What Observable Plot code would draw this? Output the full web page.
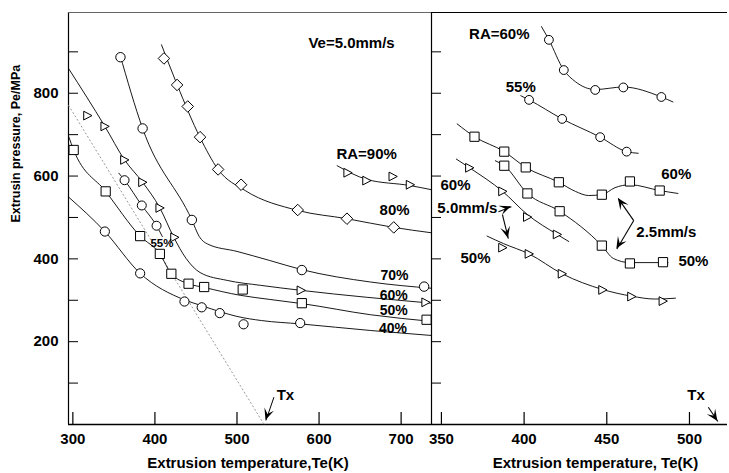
<!DOCTYPE html>
<html><head><meta charset="utf-8">
<script src="https://cdn.jsdelivr.net/npm/d3@7"></script>
<script src="https://cdn.jsdelivr.net/npm/@observablehq/plot@0.6"></script>
<style>
html,body{margin:0;padding:0;background:#fff;}
#wrap{position:relative;width:729px;height:473px;overflow:hidden;background:#fff;}
#wrap svg{position:absolute;top:0;overflow:visible;}
</style></head><body><div id="wrap"></div>
<script>
// ---------- axes ----------
const yDomain = [0, 995];
const xDomainL = [294.7, 737];
const xDomainR = [344, 523];
const xTicksL = [300, 400, 500, 600, 700];
const xTicksR = [350, 400, 450, 500];
const yTickLabels = [200, 400, 600, 800];
const yTickMarks = [100, 200, 300, 400, 500, 600, 700, 800, 900];

// ---------- left panel (Ve = 5.0 mm/s) ----------
const L90 = [[635,608],[658,589],[690,599],[711,579]];
const L90fit = [[622,625],[658,592],[711,577],[737,567]];
const L80 = [[411,884],[427,820],[440,768],[455,694],[477,616],[505,579],[574,518],[634,497],[691,476]];
const L80fit = [[408,917],[427,821],[455,693],[477,616],[510,565],[574,517],[634,497],[691,476],[737,463]];
const L70 = [[358,887],[385,715],[445,494],[579,373],[728,333]];
const L70fit = [[357,896],[385,715],[445,494],[454,454],[464,436],[500,418],[540,396],[579,374],[663,344],[737,329]];
const L60 = [[318,746],[339,720],[363,639],[385,585],[406,523],[424,452],[578,324],[730,295]];
const L60fit = [[295,859],[339,720],[363,639],[385,585],[406,523],[423,452],[438,401],[455,367],[488,348],[529,336],[578,324],[737,293]];
const L55 = [[363,590],[384,529],[402,480]];
const L55fit = [[356,607],[363,590],[384,529],[402,480],[409,454]];
const L50 = [[301,663],[340,563],[382,455],[406,412],[420,364],[441,340],[460,332],[507,326],[579,293],[731,253]];
const L50fit = [[295,695],[301,663],[340,563],[382,455],[406,412],[420,364],[441,340],[460,331],[504,312],[540,302],[579,292],[663,265],[737,249]];
const L40 = [[339,466],[382,365],[436,297],[457,283],[479,269],[508,242],[577,245]];
const L40fit = [[295,549],[339,466],[382,365],[436,301],[457,287],[480,272],[500,261],[530,251],[577,243],[663,227],[737,215]];
const Ldotted = [[295,770],[533,0]];

// ---------- right panel ----------
const R60c = [[415,929],[424,856],[443,808],[460,814],[483,791]];
const R60cFit = [[410.5,961],[415,929],[424,856],[431,828],[443,809],[460,815],[483,791],[490,779]];
const R55c = [[403,784],[423,738],[446,694],[462,659]];
const R55cFit = [[398,794],[403,784],[423,738],[446,694],[462,659],[469,655]];
const R60s = [[370,695],[388,659],[401,621],[421,585],[447,555],[464,587],[482,565]];
const R60sFit = [[359.5,726],[370,695],[388,659],[401,621],[421,585],[431,563],[439,553],[447,555],[455,572],[464,579],[482,565],[493,558]];
const R50s = [[388,625],[402,558],[421.5,515],[447,432],[464,389],[484,392]];
const R50sFit = [[382.6,637],[388,625],[402,558],[421.5,515],[447,432],[454,401],[464,391],[487,391]];
const R60t = [[367,620],[387,563],[402,501],[420,459]];
const R60tFit = [[359,641],[367,620],[387,563],[402,507],[420,459],[427,442]];
const R50t = [[387,427],[403,412],[423,364],[447.5,325],[465,309],[484,298]];
const R50tFit = [[377.6,455],[387.5,437],[403,412],[423,364],[447.5,326],[465,310],[479,303],[491.5,305]];

// ---------- annotations ----------
const labelsL = [
  {x:658, y:654, text:"RA=90%"},
  {x:692, y:517, text:"80%"},
  {x:559, y:70, text:"Tx"}
];
const labelsStack = [
  {x:692, y:361, text:"70%"},
  {x:691, y:311, text:"60%"},
  {x:691, y:275, text:"50%"},
  {x:690, y:232, text:"40%"}
];
const labelVe = [{x:587, y:922, text:"Ve=5.0mm/s"}];
const label55 = [{x:408.6, y:438, text:"55%"}];
const labelsR = [
  {x:385, y:942, text:"RA=60%"},
  {x:398, y:814, text:"55%"},
  {x:492, y:604, text:"60%"},
  {x:358.5, y:579, text:"60%"},
  {x:365.7, y:523, text:"5.0mm/s"},
  {x:370.6, y:402, text:"50%"},
  {x:486, y:464, text:"2.5mm/s"},
  {x:502.4, y:394, text:"50%"},
  {x:504, y:70, text:"Tx"}
];
const arrowsL = [{x1:545, y1:66, x2:535.3, y2:9.7}];
const arrowsR = [
  {x1:511.4, y1:41.8, x2:517.2, y2:7.2},
  {x1:466.3, y1:492.5, x2:457, y2:545.6},
  {x1:466.3, y1:492.5, x2:456.1, y2:423.7},
  {x1:384.5, y1:514, x2:392.3, y2:526},
  {x1:386.9, y1:507, x2:390.5, y2:449}
];

// ---------- helpers ----------
const FONT = "'Liberation Sans', Arial, Helvetica, sans-serif";
const triRight = {
  draw(ctx, size) {
    const r = Math.sqrt(size / Math.PI);
    ctx.moveTo(r * 0.95, 0);
    ctx.lineTo(-r * 0.85, -r * 0.95);
    ctx.lineTo(-r * 0.85, r * 0.95);
    ctx.closePath();
  }
};
const px = d => d[0], py = d => d[1];
const curve = data => Plot.line(data, {x: px, y: py, curve: "monotone-x", stroke: "black", strokeWidth: 0.9});
const dots = (data, symbol, r) => Plot.dot(data, {x: px, y: py, symbol, r, fill: "white", stroke: "black", strokeWidth: 1});

function frameMarks(xDom, ticksX, plotW, withTop) {
  const yPerPx = (yDomain[1] - yDomain[0]) / 412;
  const xPerPx = (xDom[1] - xDom[0]) / plotW;
  return [
    Plot.ruleX([xDom[0]], {stroke: "black", strokeWidth: 1.2}),
    Plot.ruleY([0], {stroke: "black", strokeWidth: 1.4}),
    Plot.ruleY([yDomain[1]], {stroke: withTop, strokeWidth: 1}),
    Plot.ruleX(ticksX, {y1: 0, y2: 12 * yPerPx, stroke: "black", strokeWidth: 1.2}),
    Plot.ruleY(yTickMarks, {x1: xDom[0], x2: xDom[0] + 10 * xPerPx, stroke: "black", strokeWidth: 1})
  ];
}

function heads(svg, arr) {
  const sx = svg.scale("x"), sy = svg.scale("y");
  const g = d3.select(svg).append("g");
  for (const a of arr) {
    const x1 = sx.apply(a.x1), y1 = sy.apply(a.y1), x2 = sx.apply(a.x2), y2 = sy.apply(a.y2);
    const ang = Math.atan2(y2 - y1, x2 - x1);
    const L = 11.5, W = 5;
    const pts = [[0,0],[-L,-W],[-L*0.55,0],[-L,W]].map(([u,v]) =>
      [x2 + u*Math.cos(ang) - v*Math.sin(ang), y2 + u*Math.sin(ang) + v*Math.cos(ang)]);
    g.append("path").attr("d", "M" + pts.map(p => p.join(",")).join("L") + "Z").attr("fill", "black");
  }
}

const style = {fontFamily: FONT, fontSize: "15px", fontWeight: "bold", background: "transparent", overflow: "visible", color: "black"};

// ---------- left plot ----------
const left = Plot.plot({
  width: 432, height: 473,
  marginLeft: 68, marginRight: 1, marginTop: 12, marginBottom: 49,
  style,
  x: {domain: xDomainL, ticks: xTicksL, tickSize: 0, tickPadding: 9, label: null},
  y: {domain: yDomain, ticks: yTickLabels, tickSize: 0, tickPadding: 10, label: null},
  marks: [
    ...frameMarks(xDomainL, xTicksL, 363, "#666"),
    Plot.line(Ldotted, {x: px, y: py, stroke: "#999", strokeWidth: 1, strokeDasharray: "1.2,2.8"}),
    curve(L90fit), curve(L80fit), curve(L70fit), curve(L60fit), curve(L55fit), curve(L50fit), curve(L40fit),
    dots(L90, triRight, 4.6), dots(L80, "diamond2", 5.2), dots(L70, "circle", 4.7),
    dots(L60, triRight, 4.6), dots(L55, "circle", 4.5), dots(L50, "square", 5.2), dots(L40, "circle", 4.6),
    Plot.text(labelsL, {x: "x", y: "y", text: "text"}),
    Plot.text(labelsStack, {x: "x", y: "y", text: "text", fontSize: 14}),
    Plot.text(labelVe, {x: "x", y: "y", text: "text", textAnchor: "start"}),
    Plot.text(label55, {x: "x", y: "y", text: "text", fontSize: 11.5, fill: "black"}),
    Plot.link(arrowsL, {x1: "x1", y1: "y1", x2: "x2", y2: "y2", stroke: "black", strokeWidth: 1}),
    Plot.text(["Extrusin pressure, Pe/MPa"], {text: d => d, frameAnchor: "left", dx: -53, dy: 4, rotate: -90, fontSize: 12.5}),
    Plot.text(["Extrusion temperature,Te(K)"], {text: d => d, frameAnchor: "bottom", dx: -2, dy: 43})
  ]
});
heads(left, arrowsL);
left.style.left = "0px";

// ---------- right plot ----------
const right = Plot.plot({
  width: 300, height: 473,
  marginLeft: 2, marginRight: 2, marginTop: 12, marginBottom: 49,
  style,
  x: {domain: xDomainR, ticks: xTicksR, tickSize: 0, tickPadding: 9, label: null},
  y: {domain: yDomain, axis: null},
  marks: [
    ...frameMarks(xDomainR, xTicksR, 296, "black"),
    curve(R60cFit), curve(R55cFit), curve(R60sFit), curve(R50sFit), curve(R60tFit), curve(R50tFit),
    dots(R60c, "circle", 4.4), dots(R55c, "circle", 4.4), dots(R60s, "square", 5.2), dots(R50s, "square", 5.2),
    dots(R60t, triRight, 4.6), dots(R50t, triRight, 4.6),
    Plot.text(labelsR, {x: "x", y: "y", text: "text"}),
    Plot.link(arrowsR, {x1: "x1", y1: "y1", x2: "x2", y2: "y2", stroke: "black", strokeWidth: 1.1}),
    Plot.text(["Extrusion temperature, Te(K)"], {text: d => d, frameAnchor: "bottom", dx: 16, dy: 43})
  ]
});
heads(right, arrowsR);
right.style.left = "429px";

const wrap = document.getElementById("wrap");
wrap.appendChild(left);
wrap.appendChild(right);
</script></body></html>
